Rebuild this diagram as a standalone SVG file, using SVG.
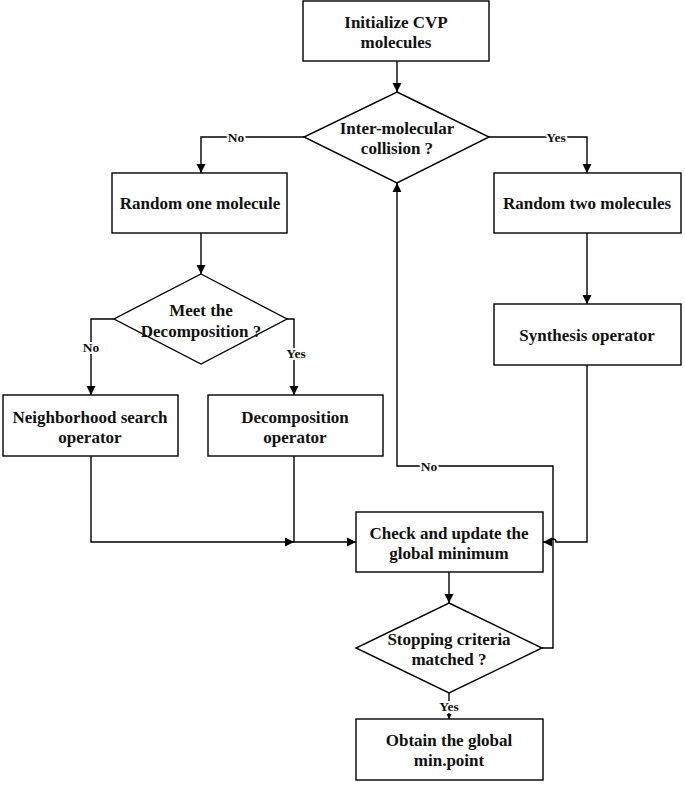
<svg xmlns="http://www.w3.org/2000/svg" width="685" height="787" viewBox="0 0 685 787">
<style>
.box{fill:#fff;stroke:#000;stroke-width:1.4}
.t{font-family:"Liberation Serif","Times New Roman",serif;font-weight:bold;font-size:17px;text-anchor:middle;fill:#111}
.lbl{font-family:"Liberation Serif","Times New Roman",serif;font-weight:bold;font-size:13.5px;text-anchor:middle;fill:#111;stroke:#fff;stroke-width:4;paint-order:stroke;dominant-baseline:central}
.c{fill:none;stroke:#000;stroke-width:1.4}
</style>
<defs>
<marker id="a" markerWidth="10" markerHeight="10" refX="9" refY="5" orient="auto" markerUnits="userSpaceOnUse"><path d="M0,0.5 L9,5 L0,9.5 Z" fill="#000"/></marker>
<marker id="s" markerWidth="6" markerHeight="6" refX="5" refY="3" orient="auto" markerUnits="userSpaceOnUse"><path d="M0,0.5 L5,3 L0,5.5 Z" fill="#000"/></marker>
</defs>
<rect width="685" height="787" fill="#fff"/>
<g id="connectors">
<path class="c" d="M397,61 V92" marker-end="url(#a)"/>
<path class="c" d="M304,137 H201 V173" marker-end="url(#a)"/>
<path class="c" d="M489,137 H587 V173" marker-end="url(#a)"/>
<path class="c" d="M201,233 V274" marker-end="url(#a)"/>
<path class="c" d="M587,233 V304" marker-end="url(#a)"/>
<path class="c" d="M114,319 H91 V395" marker-end="url(#a)"/>
<path class="c" d="M287,319 H294 V395" marker-end="url(#a)"/>
<path class="c" d="M91,456 V542 H294" marker-end="url(#a)"/>
<path class="c" d="M294,456 V542 H356" marker-end="url(#a)"/>
<path class="c" d="M587,365 V542 H556 A3,3 0 0 0 550,542 H543" marker-end="url(#a)"/>
<path class="c" d="M542,648 H553 V466 H397 V183" marker-end="url(#a)"/>
<path class="c" d="M449,572 V603" marker-end="url(#a)"/>
<path class="c" d="M449,693 V719" marker-end="url(#s)"/>
<text class="lbl" x="236" y="137">No</text>
<text class="lbl" x="556" y="137">Yes</text>
<text class="lbl" x="91" y="347">No</text>
<text class="lbl" x="296" y="353">Yes</text>
<text class="lbl" x="429" y="466">No</text>
<text class="lbl" x="449" y="706">Yes</text>
</g>
<g id="init">
<rect class="box" x="303" y="1" width="186" height="60"/>
<text class="t" x="396" y="28">Initialize CVP</text>
<text class="t" x="396" y="48">molecules</text>
</g>
<g id="collision">
<polygon class="box" points="397,92 489,137 397,183 304,137"/>
<text class="t" x="397" y="134">Inter-molecular</text>
<text class="t" x="397" y="154">collision ?</text>
</g>
<g id="random-one">
<rect class="box" x="112" y="173" width="175" height="60"/>
<text class="t" x="200" y="209">Random one molecule</text>
</g>
<g id="random-two">
<rect class="box" x="494" y="173" width="187" height="60"/>
<text class="t" x="587" y="209">Random two molecules</text>
</g>
<g id="meet-decomp">
<polygon class="box" points="201,274 287,319 201,364 114,319"/>
<text class="t" x="201" y="316">Meet the</text>
<text class="t" x="201" y="337">Decomposition ?</text>
</g>
<g id="synthesis">
<rect class="box" x="494" y="304" width="187" height="61"/>
<text class="t" x="587" y="341">Synthesis operator</text>
</g>
<g id="neighborhood">
<rect class="box" x="3" y="395" width="175" height="61"/>
<text class="t" x="90" y="423">Neighborhood search</text>
<text class="t" x="90" y="443">operator</text>
</g>
<g id="decomposition">
<rect class="box" x="208" y="395" width="175" height="61"/>
<text class="t" x="295" y="423">Decomposition</text>
<text class="t" x="295" y="443">operator</text>
</g>
<g id="check">
<rect class="box" x="356" y="512" width="187" height="60"/>
<text class="t" x="449" y="539">Check and update the</text>
<text class="t" x="449" y="559">global minimum</text>
</g>
<g id="stopping">
<polygon class="box" points="449,603 542,648 449,693 356,648"/>
<text class="t" x="449" y="645">Stopping criteria</text>
<text class="t" x="449" y="665">matched ?</text>
</g>
<g id="obtain">
<rect class="box" x="356" y="719" width="187" height="61"/>
<text class="t" x="449" y="746">Obtain the global</text>
<text class="t" x="449" y="766">min.point</text>
</g>
</svg>
